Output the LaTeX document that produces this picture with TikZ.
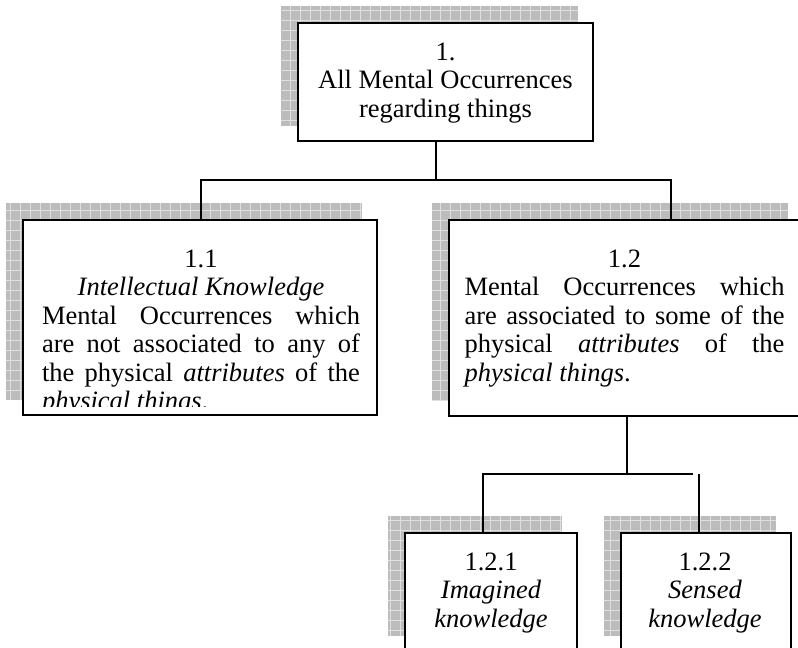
\documentclass[tikz,border=0pt]{standalone}
\usepackage{fontspec}
\setmainfont{Liberation Serif}
\usetikzlibrary{backgrounds}
\definecolor{shadegray}{RGB}{188,188,188}
\definecolor{gridlight}{RGB}{224,224,224}
\begin{document}
\begin{tikzpicture}[x=1pt,y=-1pt,
  box/.style={draw=black, fill=white, line width=1.8pt, inner sep=0pt, rectangle},
  shadowfill/.style={fill=shadegray, path picture={
      \draw[gridlight, line width=0.8pt, step=10pt]
        (path picture bounding box.south west) grid (path picture bounding box.north east);}},
  link/.style={draw=black, line width=1.8pt},
  txt/.style={font=\fontsize{26.5pt}{28.5pt}\selectfont, inner sep=0pt, align=center},
  para/.style={txt, align=justify}]
\useasboundingbox (0,0) rectangle (798,648);
\clip (0,0) rectangle (798,648);

% boxes
\node[box, minimum width=295pt, minimum height=118pt] (b1)   at (445.5,82) {};
\node[box, minimum width=354pt, minimum height=195pt] (b11)  at (200,317.5) {};
\node[box, minimum width=354pt, minimum height=196pt] (b12)  at (626,318) {};
\node[box, minimum width=172pt, minimum height=118pt] (b121) at (491,592) {};
\node[box, minimum width=170pt, minimum height=118pt] (b122) at (706,592) {};

% hatched shadows behind the boxes
\begin{scope}[on background layer]
  \foreach \b in {b1,b11,b12,b121,b122}
    \path[shadowfill] ([shift={(-16,-16)}]\b.north west) rectangle ([shift={(-16,-16)}]\b.south east);
\end{scope}

% texts (centred blocks are anchored at their last baseline)
\node[txt, anchor=base] (t1) at (445.5,117) {1.\\All Mental Occurrences\\regarding things};

\begin{scope}
  \clip (23,220) rectangle (377,406);
  \node[para, text width=318pt, anchor=base] (t11) at (201,267) {%
    {\centering 1.1\\\textit{Intellectual Knowledge}\par}
    Mental Occurrences which\linebreak
    are not associated to any of\linebreak
    the physical \textit{attributes} of the\linebreak
    \textit{physical things}.};
\end{scope}

\node[para, text width=320pt, anchor=base] (t12) at (624.5,267) {%
  {\centering 1.2\par}
  Mental Occurrences which\linebreak
  are associated to some of the\linebreak
  physical \textit{attributes} of the\linebreak
  \textit{physical things}.};

\node[txt, anchor=base] (t121) at (491,627) {1.2.1\\\textit{Imagined}\\\textit{knowledge}};
\node[txt, anchor=base] (t122) at (705,627) {1.2.2\\\textit{Sensed}\\\textit{knowledge}};

% connectors
\coordinate (j1)  at (436,180);
\coordinate (h11) at (201,180);
\coordinate (h12) at (671,180);
\draw[link] (b1.south -| j1) -- (j1);
\draw[link] (b11.north -| h11) -- (h11) -- (h12) -- (b12.north -| h12);

\coordinate (j2)   at (627,474);
\coordinate (h121) at (483,474);
\coordinate (hend) at (693,474);
\coordinate (h122) at (699,474);
\draw[link] (b12.south -| j2) -- (j2);
\draw[link] (b121.north -| h121) -- (h121) -- (hend);
\draw[link] (h122) -- (b122.north -| h122);
\end{tikzpicture}
\end{document}
